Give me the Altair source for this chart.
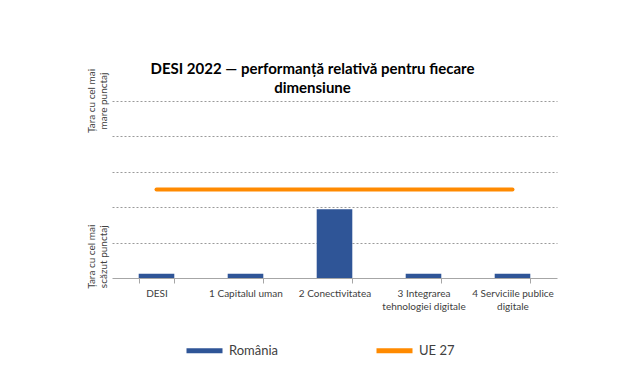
import altair as alt
import pandas as pd

categories = ["DESI", "1 Capitalul uman", "2 Conectivitatea",
              "3 Integrarea|tehnologiei digitale", "4 Serviciile publice|digitale"]
romania = [0.12, 0.12, 1.94, 0.12, 0.12]
ue27 = [2.5, 2.5, 2.5, 2.5, 2.5]
series_names = ["România", "UE 27"]
series_colors = ["#2F5597", "#FF8A00"]
y_label_values = [5, 0.6]
y_label_texts = [["Țara cu cel mai", "mare punctaj"], ["Țara cu cel mai", "scăzut punctaj"]]

FONT = "Lato"

df_ro = pd.DataFrame({"cat": categories, "val": romania, "series": series_names[0]})
df_ue = pd.DataFrame({"cat": categories, "val": ue27, "series": series_names[1]})
df_lab = pd.DataFrame({"v": y_label_values, "t": y_label_texts})

x_enc = alt.X("cat:N", sort=categories,
              scale=alt.Scale(paddingInner=0.6, paddingOuter=0.3),
              axis=alt.Axis(title=None, labelAngle=0, labelExpr="split(datum.label, '|')",
                            tickBand="extent", tickSize=5, tickColor="#a6a6a6",
                            domainColor="#a6a6a6", labelColor="#404040", labelFontSize=10,
                            labelFont=FONT, labelPadding=5, labelLineHeight=13,
                            grid=False))
y_scale = alt.Scale(domain=[0, 5], nice=False)
y_axis = alt.Axis(title=None, labels=False, ticks=False, domain=False, grid=True,
                  values=[1, 2, 3, 4, 5], gridDash=[2, 2], gridColor="#9a9a9a")
color_enc = alt.Color("series:N", scale=alt.Scale(domain=series_names, range=series_colors),
                      legend=alt.Legend(title=None, orient="none", direction="horizontal",
                                        legendX=72, legendY=229, symbolType="stroke",
                                        symbolSize=1296, symbolStrokeWidth=5,
                                        labelFontSize=13, labelFont=FONT, labelColor="#404040",
                                        columnPadding=87, labelOffset=4))

line = alt.Chart(df_ue).mark_line(strokeWidth=4, strokeCap="round").encode(
    x=x_enc, y=alt.Y("val:Q", scale=y_scale, axis=y_axis), color=color_enc)

bars = alt.Chart(df_ro).mark_bar().encode(
    x=alt.X("cat:N", sort=categories), y=alt.Y("val:Q"), color=alt.Color("series:N"))

labels = alt.Chart(df_lab).mark_text(angle=270, fontSize=10, font=FONT, color="#404040",
                                     align="center", baseline="middle", lineHeight=12).encode(
    x=alt.value(-20), y=alt.Y("v:Q"), text="t")

chart = alt.layer(line, bars, labels).properties(
    width=445, height=177,
    title=alt.TitleParams(["DESI 2022 — performanță relativă pentru fiecare", "dimensiune"],
                          font=FONT, fontSize=15, fontWeight="bold", color="#000000",
                          anchor="middle", dx=-22, dy=31, offset=4, lineHeight=19),
    autosize=alt.AutoSizeParams(type="none"),
    padding={"left": 104, "top": 93, "right": 75, "bottom": 98},
).configure_view(stroke=None)

chart.save("out.html", embed_options={"renderer": "svg", "actions": False})
